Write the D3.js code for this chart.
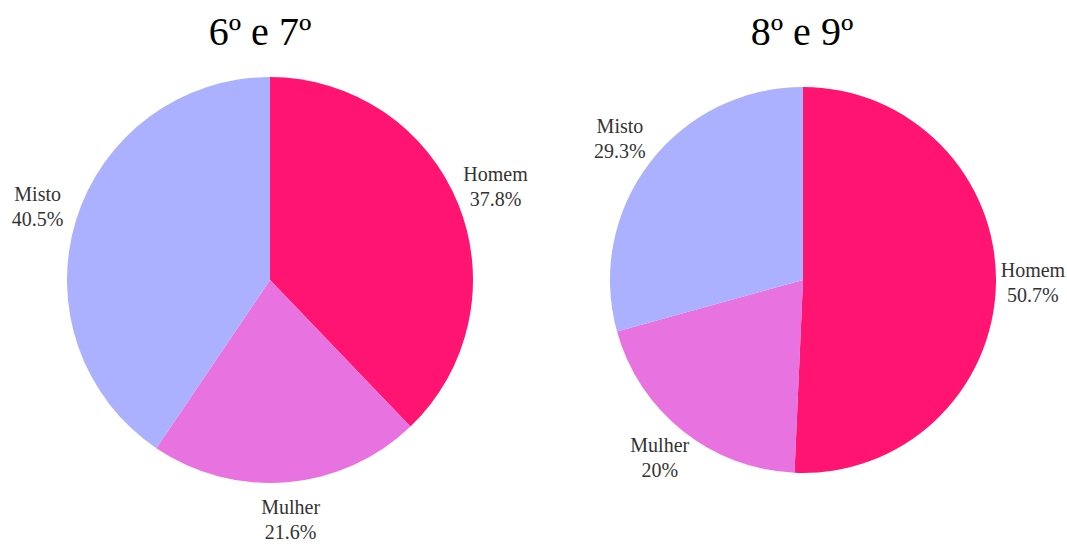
<!DOCTYPE html>
<html>
<head>
<meta charset="utf-8">
<script src="https://cdn.jsdelivr.net/npm/d3@7"></script>
<style>
  body { margin: 0; background: #fff; }
  svg { display: block; }
</style>
</head>
<body>
<svg id="chart" width="1067" height="544"></svg>
<script>
// data
var categories = ['Homem', 'Mulher', 'Misto'];
var titles = ['6º e 7º', '8º e 9º'];
var valuesA = [37.8, 21.6, 40.5];
var valuesB = [50.7, 20, 29.3];
var colors = ['#FF1472', '#E873E0', '#ACB1FF'];

var width = 1067, height = 544;
var svg = d3.select('#chart');

var color = d3.scaleOrdinal()
    .domain(categories)
    .range(colors);

var fmt = d3.format('.3~r');

// layout of the two pies
var pies = [
    { title: titles[0], values: valuesA, cx: 270, cy: 280, r: 203, pad: 40, titleX: 260 },
    { title: titles[1], values: valuesB, cx: 803, cy: 280, r: 193, pad: 37, titleX: 802 }
];

var pie = d3.pie()
    .sort(null)
    .value(function (d) { return d.value; });

pies.forEach(function (p) {
    var data = categories.map(function (c, i) { return { name: c, value: p.values[i] }; });
    var total = d3.sum(p.values);

    var g = svg.append('g')
        .attr('transform', 'translate(' + [p.cx, p.cy] + ')');

    var arc = d3.arc()
        .innerRadius(0)
        .outerRadius(p.r);

    var labelArc = d3.arc()
        .innerRadius(p.r + p.pad)
        .outerRadius(p.r + p.pad);

    var arcs = pie(data);

    g.selectAll('.slice')
        .data(arcs)
        .enter()
        .append('path')
        .attr('class', 'slice')
        .attr('d', arc)
        .style('fill', function (d) { return color(d.data.name); });

    var labels = g.selectAll('.label')
        .data(arcs)
        .enter()
        .append('text')
        .attr('class', 'label')
        .attr('transform', function (d) { return 'translate(' + labelArc.centroid(d) + ')'; })
        .style('text-anchor', 'middle')
        .style('font-family', '"Liberation Serif", "Times New Roman", serif')
        .style('font-size', '20px')
        .style('fill', '#333');

    labels.append('tspan')
        .attr('x', 0)
        .attr('y', -8)
        .text(function (d) { return d.data.name; });

    labels.append('tspan')
        .attr('x', 0)
        .attr('y', 17)
        .text(function (d) { return fmt(d.data.value / total * 100) + '%'; });

    svg.append('text')
        .attr('x', p.titleX)
        .attr('y', 45)
        .style('text-anchor', 'middle')
        .style('font-family', '"Liberation Serif", "Times New Roman", serif')
        .style('font-size', '40px')
        .style('fill', '#000')
        .text(p.title);
});
</script>
</body>
</html>
